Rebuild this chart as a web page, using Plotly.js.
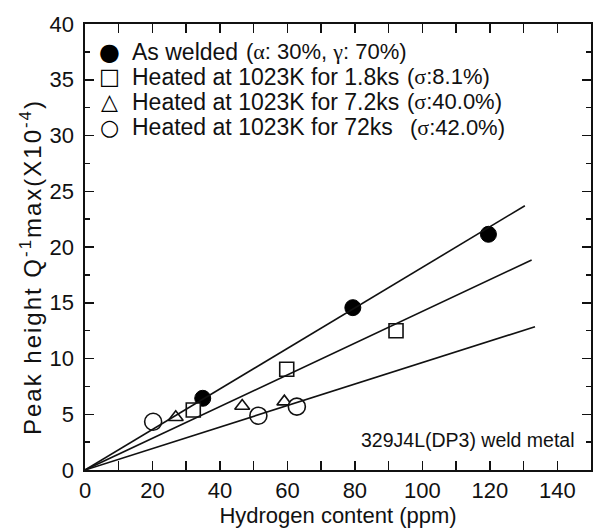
<!DOCTYPE html>
<html><head><meta charset="utf-8">
<script src="https://cdn.plot.ly/plotly-3.0.1.min.js"></script>
<style>
html,body{margin:0;padding:0;background:#fff}
.annotation[data-index="13"] .annotation-text{letter-spacing:2px}
</style>
</head><body>
<div id="chart" style="width:593px;height:528px"></div>
<script>
// ---- data ----
const weldedX = [34.9, 79.4, 119.6];
const weldedY = [6.43, 14.56, 21.14];
const h18X = [32.1, 59.8, 92.2];
const h18Y = [5.38, 9.03, 12.49];
const h72X_7 = [26.9, 46.6, 59.1];
const h72Y_7 = [4.73, 5.74, 6.13];
const h72X = [20.2, 51.4, 62.8];
const h72Y = [4.33, 4.87, 5.68];
// fitted lines (start, end)
const fit1X = [0, 130.4], fit1Y = [0, 23.7];
const fit2X = [0, 132.4], fit2Y = [0, 18.83];
const fit3X = [0, 133.4], fit3Y = [0, 12.85];

const legendNames = ["As welded", "Heated at 1023K for 1.8ks", "Heated at 1023K for 7.2ks", "Heated at 1023K for 72ks"];
const SERIF = 'font-family:Liberation Serif';
const legendNotes = [
  '(<span style="' + SERIF + '">α</span>: 30%, <span style="' + SERIF + '">γ</span>: 70%)',
  '(<span style="' + SERIF + '">σ</span>:8.1%)',
  '(<span style="' + SERIF + '">σ</span>:40.0%)',
  '(<span style="' + SERIF + '">σ</span>:42.0%)'
];
const legendGlyphs = ["●", "□", "△", "○"];
const noteText = "329J4L(DP3) weld metal";
const xTitle = "Hydrogen content (ppm)";
const yTitle = "Peak height Q<sup>-1</sup>max(X10<sup>-4</sup>)";

const FONT = "Liberation Sans, Arial, sans-serif";
const line = {color: "#111", width: 1.6};

const traces = [
  {x: fit1X, y: fit1Y, yaxis: "y2", mode: "lines", line: line, showlegend: false, hoverinfo: "skip"},
  {x: fit2X, y: fit2Y, yaxis: "y2", mode: "lines", line: line, showlegend: false, hoverinfo: "skip"},
  {x: fit3X, y: fit3Y, yaxis: "y2", mode: "lines", line: line, showlegend: false, hoverinfo: "skip"},
  {x: weldedX, y: weldedY, mode: "markers", name: legendNames[0],
   marker: {symbol: "circle", size: 16, color: "#000", line: {color: "#000", width: 1}}},
  {x: h18X, y: h18Y, mode: "markers", name: legendNames[1],
   marker: {symbol: "square", size: 14, color: "#fff", line: {color: "#111", width: 1.6}}},
  {x: h72X_7, y: h72Y_7, mode: "markers", name: legendNames[2],
   marker: {symbol: "triangle-up", size: 13, color: "#fff", line: {color: "#111", width: 1.6}}},
  {x: h72X, y: h72Y, mode: "markers", name: legendNames[3],
   marker: {symbol: "circle", size: 17, color: "#fff", line: {color: "#111", width: 1.6}}}
];

// plot area: margin-left 70px, x domain starts 15px further right (frame at 85px)
const ML = 70, MR = 2, PW = 593 - ML - MR;
const x0 = 15 / PW;
const px = f => x0 + f * (1 - x0);   // fraction of frame width -> paper

const rowY = [0.938, 0.882, 0.826, 0.768];
const noteX = [0.3136, 0.633, 0.633, 0.639];
const glyphSize = [24, 22, 22, 22];
const annotations = [];
for (let i = 0; i < 4; i++) {
  annotations.push({xref: "paper", yref: "paper", x: px(0.049), y: rowY[i], text: legendGlyphs[i],
    showarrow: false, xanchor: "center", yanchor: "middle",
    font: {family: "DejaVu Sans", size: glyphSize[i], color: "#000"}});
  annotations.push({xref: "paper", yref: "paper", x: px(0.0888), y: rowY[i], text: legendNames[i],
    showarrow: false, xanchor: "left", yanchor: "middle",
    font: {family: FONT, size: 23, color: "#111"}});
  annotations.push({xref: "paper", yref: "paper", x: px(noteX[i]), y: rowY[i], text: legendNotes[i],
    showarrow: false, xanchor: "left", yanchor: "middle",
    font: {family: FONT, size: 22, color: "#111"}});
}
annotations.push({xref: "paper", yref: "paper", x: px(0.972), y: 0.068, text: noteText,
  showarrow: false, xanchor: "right", yanchor: "middle",
  font: {family: FONT, size: 19.5, color: "#111"}});
// y-axis title (index 13), placed as in the reference
annotations.push({xref: "paper", yref: "paper", x: (31 - ML) / PW, y: 0.455, text: yTitle, textangle: -90,
  showarrow: false, xanchor: "center", yanchor: "middle",
  font: {family: FONT, size: 24, color: "#111"}});

const FONTOBJ = {family: FONT, size: 22, color: "#111"};

const layout = {
  width: 593, height: 528,
  margin: {l: ML, r: MR, t: 24, b: 58},
  paper_bgcolor: "#fff", plot_bgcolor: "#fff",
  showlegend: false,
  xaxis: {
    domain: [x0, 1],
    showline: true, linecolor: "#111", linewidth: 1.6, mirror: "allticks",
    ticks: "inside", ticklen: 9, tickwidth: 1.5, tickcolor: "#111",
    showgrid: false, zeroline: false, tickfont: FONTOBJ,
    range: [0, 150], dtick: 20, tick0: 0,
    minor: {dtick: 10, ticks: "inside", ticklen: 5, tickwidth: 1.5, tickcolor: "#111"},
    title: {text: xTitle, font: FONTOBJ, standoff: 5}
  },
  // labels axis, set slightly left of the frame
  yaxis: {
    anchor: "free", position: 4 / PW,
    showline: false, ticks: "",
    showgrid: false, zeroline: false, tickfont: FONTOBJ,
    range: [0, 40], dtick: 5, tick0: 0
  },
  // frame axis: inside major/minor ticks on left and right
  yaxis2: {
    overlaying: "y", anchor: "x", side: "left",
    showline: true, linecolor: "#111", linewidth: 1.6, mirror: "allticks",
    ticks: "inside", ticklen: 9, tickwidth: 1.5, tickcolor: "#111",
    showticklabels: false, showgrid: false, zeroline: false,
    range: [0, 40], dtick: 5, tick0: 0,
    minor: {dtick: 2.5, ticks: "inside", ticklen: 5, tickwidth: 1.5, tickcolor: "#111"}
  },
  annotations: annotations
};

Plotly.newPlot("chart", traces, layout, {staticPlot: true, displayModeBar: false});
</script>
</body></html>
